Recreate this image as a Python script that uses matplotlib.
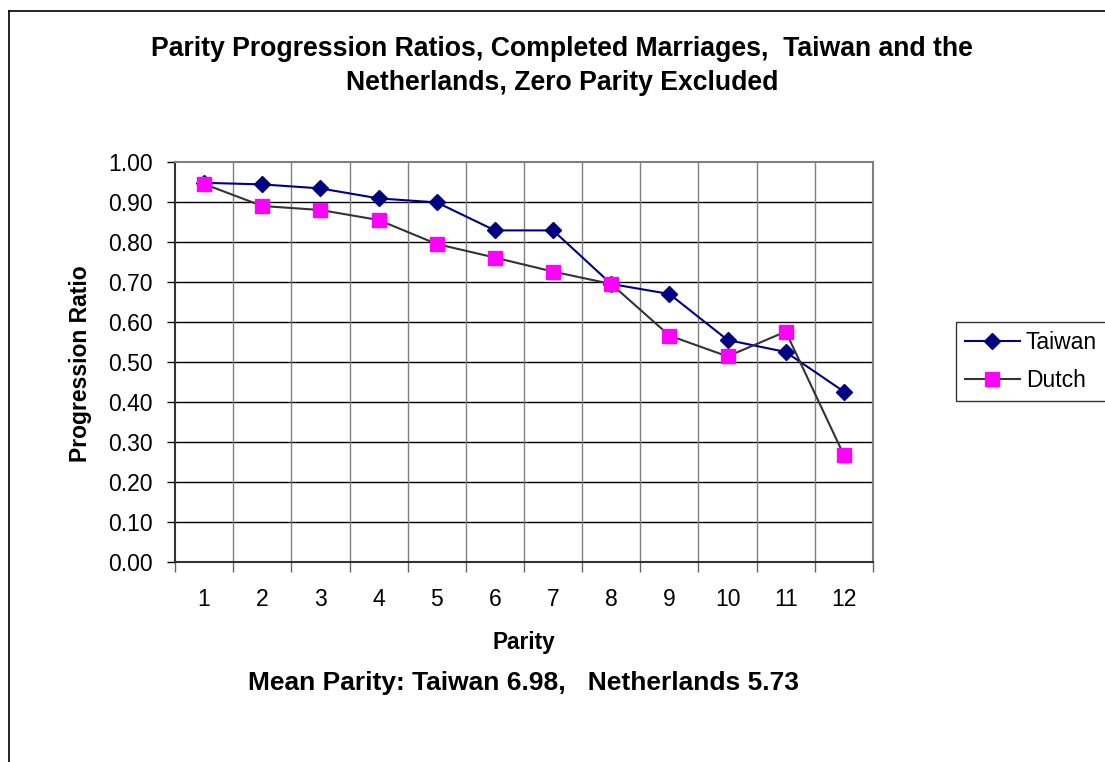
import matplotlib
matplotlib.use("Agg")
import matplotlib.pyplot as plt
from matplotlib.lines import Line2D
import numpy as np

parity = [1, 2, 3, 4, 5, 6, 7, 8, 9, 10, 11, 12]
taiwan = [0.948, 0.944, 0.934, 0.909, 0.899, 0.829, 0.829, 0.695, 0.670, 0.555, 0.525, 0.426]
dutch = [0.945, 0.890, 0.880, 0.855, 0.795, 0.761, 0.726, 0.695, 0.566, 0.514, 0.576, 0.267]
yticks = [0.0, 0.1, 0.2, 0.3, 0.4, 0.5, 0.6, 0.7, 0.8, 0.9, 1.0]

plt.rcParams['font.family'] = ['Liberation Sans', 'DejaVu Sans']

W, H = 1105, 762
fig = plt.figure(figsize=(W / 100, H / 100), dpi=100)
fig.patch.set_facecolor('white')

# outer chart border
fig.add_artist(Line2D([8.5 / W, 8.5 / W], [0, 1 - 10.5 / H], transform=fig.transFigure, color='black', lw=1.2))
fig.add_artist(Line2D([8.5 / W, 1], [1 - 10.5 / H, 1 - 10.5 / H], transform=fig.transFigure, color='black', lw=1.2))

left, right, top, bottom = 175, 873, 162, 562
ax = fig.add_axes([left / W, 1 - bottom / H, (right - left) / W, (bottom - top) / H])

ax.set_xlim(0.5, 12.5)
ax.set_ylim(0, 1.0)

# gridlines
for yv in yticks[1:-1]:
    ax.axhline(yv, color='black', lw=1.0, zorder=1)
for xb in np.arange(1.5, 12.5, 1.0):
    ax.axvline(xb, color='#808080', lw=1.0, zorder=1)

ax.plot(parity, taiwan, color='#000080', lw=1.5, marker='D', markersize=8.5,
        markerfacecolor='#000080', markeredgecolor='#000080', label='Taiwan', zorder=3)
ax.plot(parity, dutch, color='#333333', lw=1.5, marker='s', markersize=10,
        markerfacecolor='#FF00FF', markeredgecolor='#FF00FF', label='Dutch', zorder=3)

for side in ['top', 'right']:
    ax.spines[side].set_color('#808080')
    ax.spines[side].set_linewidth(1.5)
for side in ['left', 'bottom']:
    ax.spines[side].set_color('#333333')
    ax.spines[side].set_linewidth(1.5)

ax.set_yticks(yticks)
ax.set_yticklabels([f"{v:.2f}" for v in yticks], fontsize=16.5)
ax.tick_params(axis='y', direction='out', length=6, width=1, color='black', pad=10)

ax.set_xticks(parity)
ax.set_xticklabels([str(p) for p in parity], fontsize=16.5)
ax.tick_params(axis='x', which='major', length=0, pad=19)
ax.set_xticks(np.arange(0.5, 13, 1.0), minor=True)
ax.tick_params(axis='x', which='minor', direction='out', length=7, width=1, color='#666666')

fig.text(80 / W, 1 - 364 / H, 'Progression Ratio', rotation=90,
         ha='center', va='center', fontsize=16.5, fontweight='bold')

fig.text(524 / W, 1 - 643 / H, 'Parity', ha='center', va='center', fontsize=16.3, fontweight='bold')
fig.text(524 / W, 1 - 683 / H, 'Mean Parity: Taiwan 6.98,   Netherlands 5.73', ha='center', va='center',
         fontsize=19, fontweight='bold')

fig.text(562 / W, 1 - 49 / H, 'Parity Progression Ratios, Completed Marriages,  Taiwan and the',
         ha='center', va='center', fontsize=19.2, fontweight='bold')
fig.text(562 / W, 1 - 83 / H, 'Netherlands, Zero Parity Excluded',
         ha='center', va='center', fontsize=19.2, fontweight='bold')

handles, labels = ax.get_legend_handles_labels()
leg = fig.legend(handles, labels, loc='upper left', bbox_to_anchor=(956 / W, 1 - 322 / H),
                 bbox_transform=fig.transFigure, fontsize=16.5, frameon=True, fancybox=False,
                 edgecolor='black', handlelength=2.4, handletextpad=0.26, borderpad=0.38,
                 labelspacing=0.68, borderaxespad=0)
leg.get_frame().set_linewidth(1.0)

fig.savefig('out.png', dpi=100)
